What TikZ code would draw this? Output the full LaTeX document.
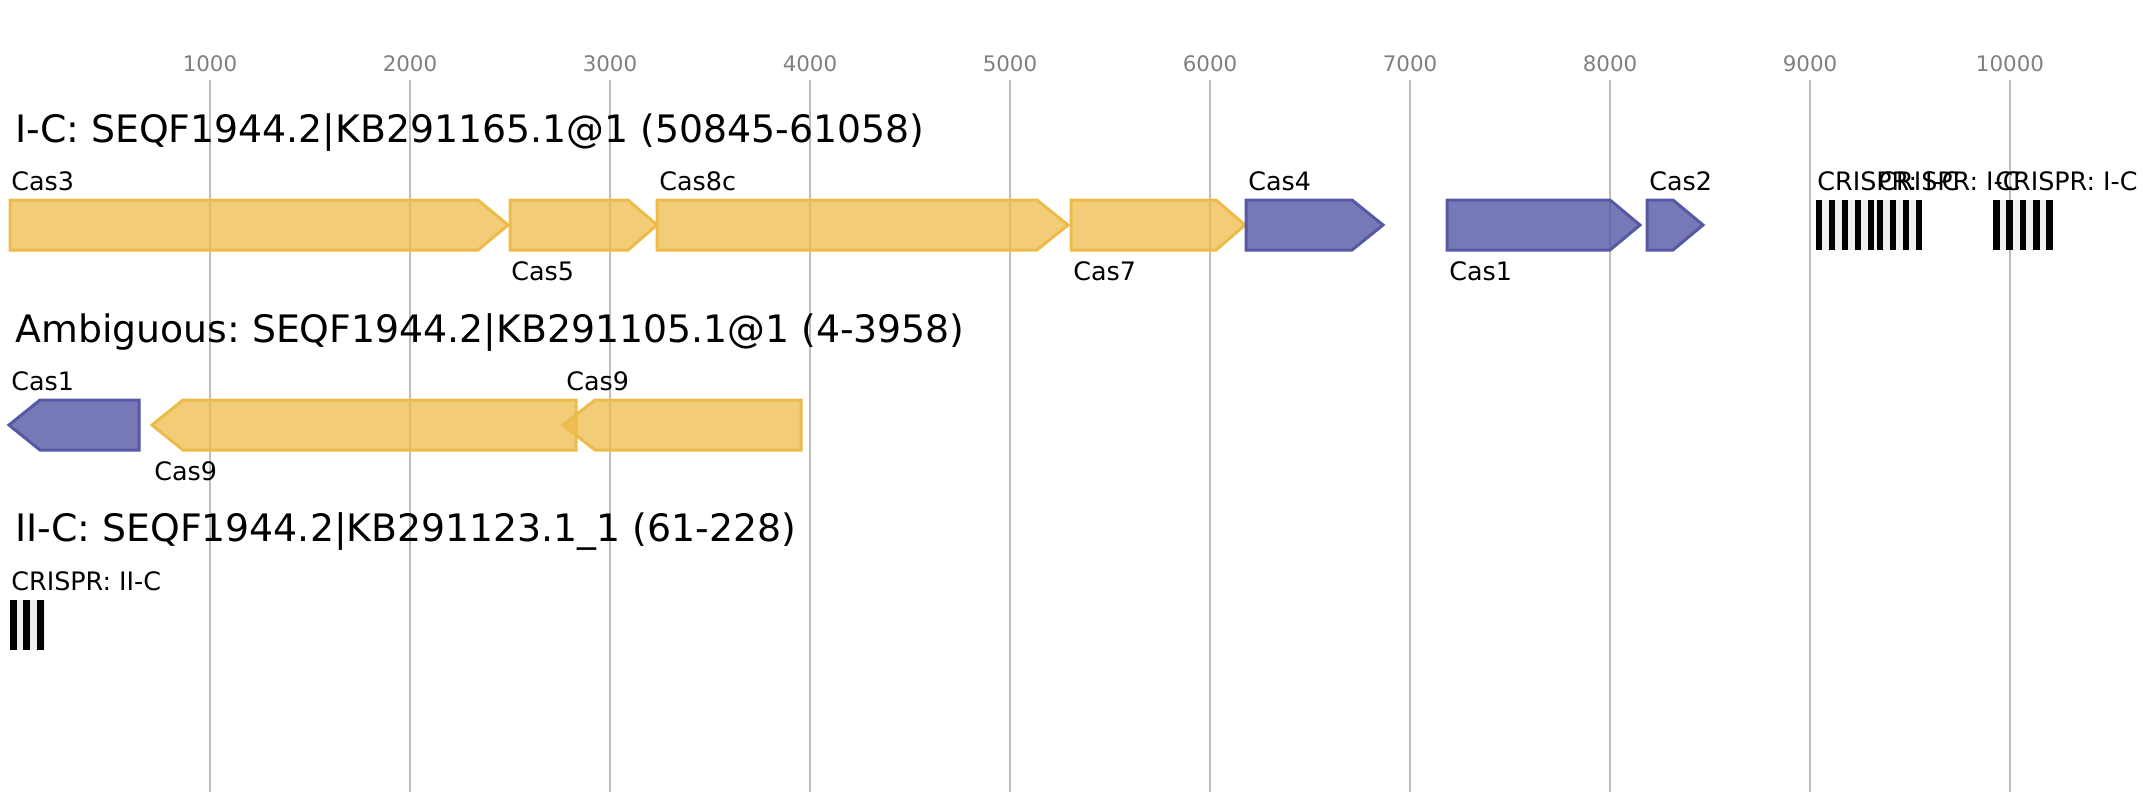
\documentclass[tikz,border=0pt]{standalone}
\usepackage{fontspec}
\setmainfont{DejaVu Sans}
\frenchspacing
\definecolor{ylw}{HTML}{EDBB4A}
\definecolor{blu}{HTML}{5558A5}
\definecolor{gridc}{HTML}{BDBDBD}
\definecolor{tickc}{HTML}{808080}
\definecolor{gapc}{HTML}{EFEFEF}
\tikzset{
  gridline/.style={draw=gridc, line width=1pt},
  ticklbl/.style={anchor=base, inner sep=0pt, text=tickc, font=\fontsize{10.7pt}{12pt}\selectfont},
  titlelbl/.style={anchor=base west, inner sep=0pt, font=\fontsize{18.9pt}{22pt}\selectfont},
  genelbl/.style={anchor=base west, inner sep=0pt, font=\fontsize{12.7pt}{15pt}\selectfont},
  ygene/.style={draw=ylw, fill=ylw, fill opacity=0.75, line width=1.5pt, line join=miter},
  bgene/.style={draw=blu, fill=blu, fill opacity=0.8, line width=1.5pt, line join=miter},
  arraybg/.style={fill=gapc, draw=none},
  spacerbar/.style={fill=black, draw=none}
}
% forward gene: style, left, shoulder, tip, centre y
\newcommand{\genefwd}[5]{\draw[#1] (#2,#5-25) -- (#3,#5-25) -- (#4,#5) -- (#3,#5+25) -- (#2,#5+25) -- cycle;}
% reverse gene: style, tip, shoulder, right, centre y
\newcommand{\generev}[5]{\draw[#1] (#2,#5) -- (#3,#5-25) -- (#4,#5-25) -- (#4,#5+25) -- (#3,#5+25) -- cycle;}
\begin{document}
\begin{tikzpicture}[x=0.5pt,y=-0.5pt]
\useasboundingbox (0,0) rectangle (2143,800);
% grid and ticks
\foreach \k in {1,...,10}{
  \coordinate (gt\k) at (10+200*\k,80);
  \coordinate (gb\k) at (10+200*\k,792);
  \draw[gridline] (gt\k) -- (gb\k);
  \node[ticklbl] (tick\k) at (10+200*\k,71) {\the\numexpr\k*1000\relax};
}
% titles
\node[titlelbl] (t1) at (15,142) {I-C: SEQF1944.2|KB291165.1@1 (50845-61058)};
\node[titlelbl] (t2) at (15,342) {Ambiguous: SEQF1944.2|KB291105.1@1 (4-3958)};
\node[titlelbl] (t3) at (15,541) {II-C: SEQF1944.2|KB291123.1\_1 (61-228)};
% row 1 genes
\genefwd{ygene}{10}{478}{508}{225}
\genefwd{ygene}{510}{628}{657}{225}
\genefwd{ygene}{657}{1037}{1068}{225}
\genefwd{ygene}{1071}{1216}{1245}{225}
\genefwd{bgene}{1246}{1352}{1383}{225}
\genefwd{bgene}{1447}{1610}{1640}{225}
\genefwd{bgene}{1647}{1673}{1703}{225}
\node[genelbl] (l1) at (11,190) {Cas3};
\node[genelbl] (l2) at (511,280) {Cas5};
\node[genelbl] (l3) at (659,190) {Cas8c};
\node[genelbl] (l4) at (1073,280) {Cas7};
\node[genelbl] (l5) at (1248,190) {Cas4};
\node[genelbl] (l6) at (1449,280) {Cas1};
\node[genelbl] (l7) at (1649,190) {Cas2};
% row 1 CRISPR arrays
\fill[arraybg] (1816,200) rectangle (1922,250);
\foreach \b in {1816,1829,1842,1855,1868,1877,1890,1903,1916}{\fill[spacerbar] (\b,200) rectangle (\b+6,250);}
\fill[arraybg] (1993,200) rectangle (2053,250);
\foreach \b in {1993,2006.3,2019.6,2032.9,2046.2}{\fill[spacerbar] (\b,200) rectangle (\b+6.7,250);}
\node[genelbl] (c1) at (1817,190) {CRISPR: I-C};
\node[genelbl] (c2) at (1878,190) {CRISPR: I-C};
\node[genelbl] (c3) at (1995,190) {CRISPR: I-C};
% row 2 genes
\generev{bgene}{9}{40}{139}{425}
\generev{ygene}{152}{183}{576}{425}
\generev{ygene}{563}{595}{801}{425}
\node[genelbl] (l8) at (11,390) {Cas1};
\node[genelbl] (l9) at (154,480) {Cas9};
\node[genelbl] (l10) at (566,390) {Cas9};
% row 3 CRISPR
\fill[arraybg] (10,600) rectangle (44.6,650);
\foreach \b in {10,23.3,36.6}{\fill[spacerbar] (\b,600) rectangle (\b+7,650);}
\node[genelbl] (c4) at (11,590) {CRISPR: II-C};
\end{tikzpicture}
\end{document}
